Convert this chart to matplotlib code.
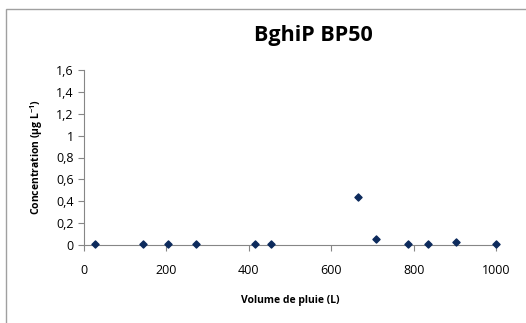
import matplotlib.pyplot as plt
from matplotlib.patches import Rectangle
from matplotlib.ticker import FuncFormatter

# donnees
volume = [27, 142, 203, 272, 415, 455, 665, 708, 786, 834, 902, 1000]
conc = [0.005, 0.005, 0.005, 0.005, 0.005, 0.005, 0.436, 0.055, 0.005, 0.005, 0.027, 0.005]

x_ticks = [0, 200, 400, 600, 800, 1000]
y_ticks = [0, 0.2, 0.4, 0.6, 0.8, 1, 1.2, 1.4, 1.6]

plt.rcParams['font.family'] = ['Open Sans', 'DejaVu Sans']

fig = plt.figure(figsize=(5.26, 3.23), dpi=100)
ax = fig.add_axes([84/526, 1 - 245/323, (496-84)/526, (245-70)/323])

# cadre gris autour du graphique (coupe a droite et en bas)
fig.patches.append(Rectangle((6/526, -0.1), 1.2, 1.1 - 9/323,
                             transform=fig.transFigure, fill=False,
                             edgecolor='#a0a0a0', linewidth=1))

ax.scatter(volume, conc, marker='D', s=13, color='#0c2a5c', zorder=3, clip_on=False)

ax.set_xlim(0, 1000)
ax.set_ylim(0, 1.6)
ax.set_xticks(x_ticks)
ax.set_yticks(y_ticks)
ax.yaxis.set_major_formatter(FuncFormatter(lambda v, p: ('%g' % round(v, 1)).replace('.', ',')))

for s in ['top', 'right']:
    ax.spines[s].set_visible(False)
for s in ['left', 'bottom']:
    ax.spines[s].set_color('#868686')
ax.tick_params(axis='both', colors='#868686', labelcolor='black', labelsize=9, length=4)
ax.tick_params(axis='x', pad=10)

fig.text(313/526, 1 - 36/323, 'BghiP BP50', fontsize=15.5, fontweight='bold', ha='center', va='center')
ax.set_xlabel('Volume de pluie (L)', fontsize=7.5, fontweight='bold', labelpad=13)
ax.set_ylabel('Concentration (µg L$^{\\mathregular{-1}}$)', fontsize=7.5, fontweight='bold', labelpad=8)

fig.savefig('out.png', dpi=100)
